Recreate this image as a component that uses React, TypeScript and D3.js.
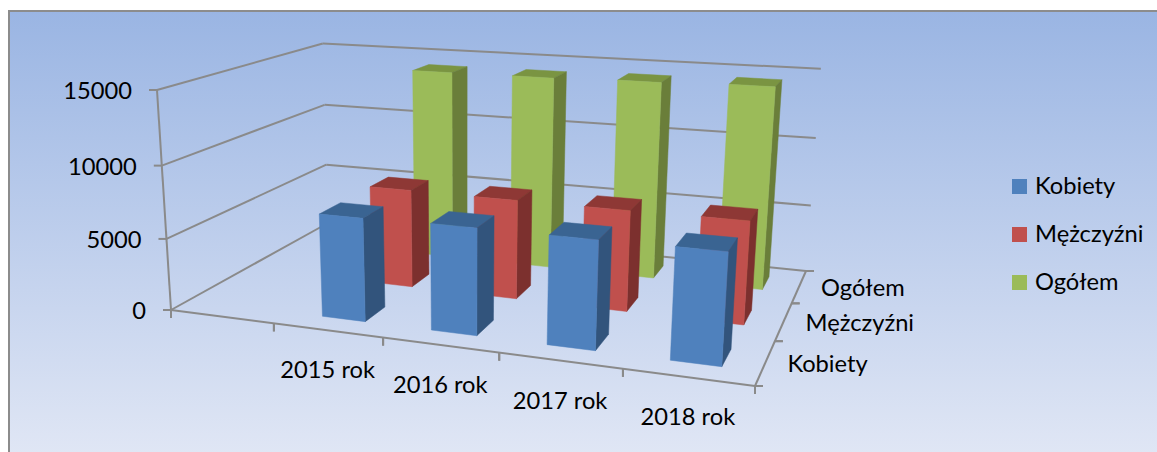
import { useEffect, useRef } from "react"
import { select, scaleLinear, scaleBand, line } from "d3"

const years = ["", "2015 rok", "2016 rok", "2017 rok", "2018 rok"]
const seriesNames = ["Kobiety", "Mężczyźni", "Ogółem"]
const kobiety = [7050, 7150, 7150, 7200]
const mezczyzni = [7060, 7030, 7020, 7050]
const ogolem = [14150, 14180, 14300, 14450]
const valueTicks = [0, 5000, 10000, 15000]

const barColors = [
  { front: "#4F81BD", side: "#32547C", top: "#3A6492" },
  { front: "#C0504D", side: "#7C302E", top: "#8E3835" },
  { front: "#9BBB59", side: "#6A7E3A", top: "#7A9442" },
]

const width = 1157
const height = 452
const font = "Lato, sans-serif"
const fontSize = 23.7

// wall corners as seen in the picture, used to fit the perspective
const FL = [171, 310], FR = [755, 386], BL = [328, 223], BR = [806, 271]
const topFL = [157, 90], topBL = [322, 43], topBR = [821, 69]

function makeProjection() {
  const dx1 = FR[0] - BR[0], dx2 = BL[0] - BR[0], sx = FL[0] - FR[0] + BR[0] - BL[0]
  const dy1 = FR[1] - BR[1], dy2 = BL[1] - BR[1], sy = FL[1] - FR[1] + BR[1] - BL[1]
  const det = dx1 * dy2 - dx2 * dy1
  const g = (sx * dy2 - dx2 * sy) / det
  const h = (dx1 * sy - sx * dy1) / det
  const a = FR[0] - FL[0] + g * FR[0], b = BL[0] - FL[0] + h * BL[0], c = FL[0]
  const d = FR[1] - FL[1] + g * FR[1], e = BL[1] - FL[1] + h * BL[1], f = FL[1]

  // depth term of the height axis, least squares over the two back corners
  let num = 0, den = 0
  const fit = (u: number, v: number, p: number[]) => {
    const D = g * u + h * v + 1
    const A = p[0] - topFL[0], B = a * u + b * v + topFL[0] - p[0] * D
    const A2 = p[1] - topFL[1], B2 = d * u + e * v + topFL[1] - p[1] * D
    num += A * B + A2 * B2
    den += A * A + A2 * A2
  }
  fit(0, 1, topBL)
  fit(1, 1, topBR)
  const k = num / den
  const i = topFL[0] * (1 + k) - c
  const j = topFL[1] * (1 + k) - f

  return (u: number, v: number, w: number): [number, number] => {
    const q = g * u + h * v + k * w + 1
    return [(a * u + b * v + i * w + c) / q, (d * u + e * v + j * w + f) / q]
  }
}

function App() {
  const svgRef = useRef<SVGSVGElement>(null)

  useEffect(() => {
    const svg = select(svgRef.current)
    svg.selectAll("*").remove()

    const project = makeProjection()
    const xScale = scaleBand().domain(years).range([0, 1]).paddingInner(0.6).paddingOuter(0.3)
    const xStep = scaleLinear().domain([0, years.length]).range([0, 1])
    const zScale = scaleBand().domain(seriesNames).range([0, 1]).paddingInner(0.6).paddingOuter(0.3)
    const zStep = scaleLinear().domain([0, seriesNames.length]).range([0, 1])
    const yScale = scaleLinear().domain([0, 15000]).range([0, 1])
    const path = line()

    const grad = svg.append("defs").append("linearGradient")
      .attr("id", "bg").attr("x1", 0).attr("y1", 0).attr("x2", 0).attr("y2", 1)
    grad.append("stop").attr("offset", "0%").attr("stop-color", "#9AB5E3")
    grad.append("stop").attr("offset", "100%").attr("stop-color", "#E1E7F5")

    svg.append("rect")
      .attr("x", 9).attr("y", 11).attr("width", 1160).attr("height", 450)
      .attr("fill", "url(#bg)").attr("stroke", "#8C8C8C").attr("stroke-width", 2)

    const axisLine = (p1: [number, number], p2: [number, number]) =>
      svg.append("line")
        .attr("x1", p1[0]).attr("y1", p1[1]).attr("x2", p2[0]).attr("y2", p2[1])
        .attr("stroke", "#8A8A8A").attr("stroke-width", 2)

    // gridlines on both walls
    valueTicks.forEach(t => {
      const w = yScale(t)
      axisLine(project(0, 0, w), project(0, 1, w))
      axisLine(project(0, 1, w), project(1, 1, w))
      const p = project(0, 0, w)
      axisLine([p[0] - 8, p[1]], p)
      svg.append("text")
        .attr("x", p[0] - 25).attr("y", p[1] + 9)
        .attr("text-anchor", "end").attr("font-family", font).attr("font-size", fontSize)
        .attr("fill", "#000").text(t)
    })
    axisLine(project(0, 0, 0), project(0, 0, 1))
    axisLine(project(0, 0, 0), project(1, 0, 0))
    axisLine(project(1, 0, 0), project(1, 1, 0))

    years.forEach((year, n) => {
      for (const s of [n, n + 1]) {
        const p = project(xStep(s), 0, 0)
        axisLine(p, [p[0], p[1] + 8])
      }
      if (!year) return
      const mid = project(xStep(n + 0.5), 0, 0)
      svg.append("text")
        .attr("x", mid[0]).attr("y", mid[1] + 48)
        .attr("text-anchor", "middle").attr("font-family", font).attr("font-size", fontSize)
        .attr("fill", "#000").text(year)
    })

    seriesNames.forEach((name, n) => {
      for (const s of [n, n + 1]) {
        const p = project(1, zStep(s), 0)
        axisLine(p, [p[0] + 8, p[1]])
      }
      const mid = project(1, zStep(n + 0.5), 0)
      svg.append("text")
        .attr("x", mid[0] + 22).attr("y", mid[1] + 9)
        .attr("font-family", font).attr("font-size", fontSize)
        .attr("fill", "#000").text(name)
    })

    // bars, back row first, left to right inside a row
    const allSeries = [kobiety, mezczyzni, ogolem]
    for (let s = allSeries.length - 1; s >= 0; s--) {
      const v0 = zScale(seriesNames[s])!
      const v1 = v0 + zScale.bandwidth()
      allSeries[s].forEach((value, n) => {
        const u0 = xScale(years[n + 1])!
        const u1 = u0 + xScale.bandwidth()
        const w = yScale(value)
        const faces: [string, [number, number][]][] = [
          ["top", [project(u0, v0, w), project(u1, v0, w), project(u1, v1, w), project(u0, v1, w)]],
          ["side", [project(u1, v0, 0), project(u1, v1, 0), project(u1, v1, w), project(u1, v0, w)]],
          ["front", [project(u0, v0, 0), project(u1, v0, 0), project(u1, v0, w), project(u0, v0, w)]],
        ]
        faces.forEach(([face, pts]) => {
          const color = barColors[s][face as "top" | "side" | "front"]
          svg.append("path")
            .attr("d", path(pts) + "Z")
            .attr("fill", color).attr("stroke", color).attr("stroke-width", 0.5)
        })
      })
    }

    // legend
    const legendY = scaleBand().domain(seriesNames).range([179, 323])
    seriesNames.forEach((name, s) => {
      const y = legendY(name)!
      svg.append("rect")
        .attr("x", 1012).attr("y", y).attr("width", 15).attr("height", 15)
        .attr("fill", barColors[s].front)
      svg.append("text")
        .attr("x", 1035).attr("y", y + 15)
        .attr("font-family", font).attr("font-size", fontSize)
        .attr("fill", "#000").text(name)
    })
  }, [])

  return (
    <svg ref={svgRef} width={width} height={height}
      style={{ position: "absolute", left: 0, top: 0, display: "block" }} />
  )
}

export default App
